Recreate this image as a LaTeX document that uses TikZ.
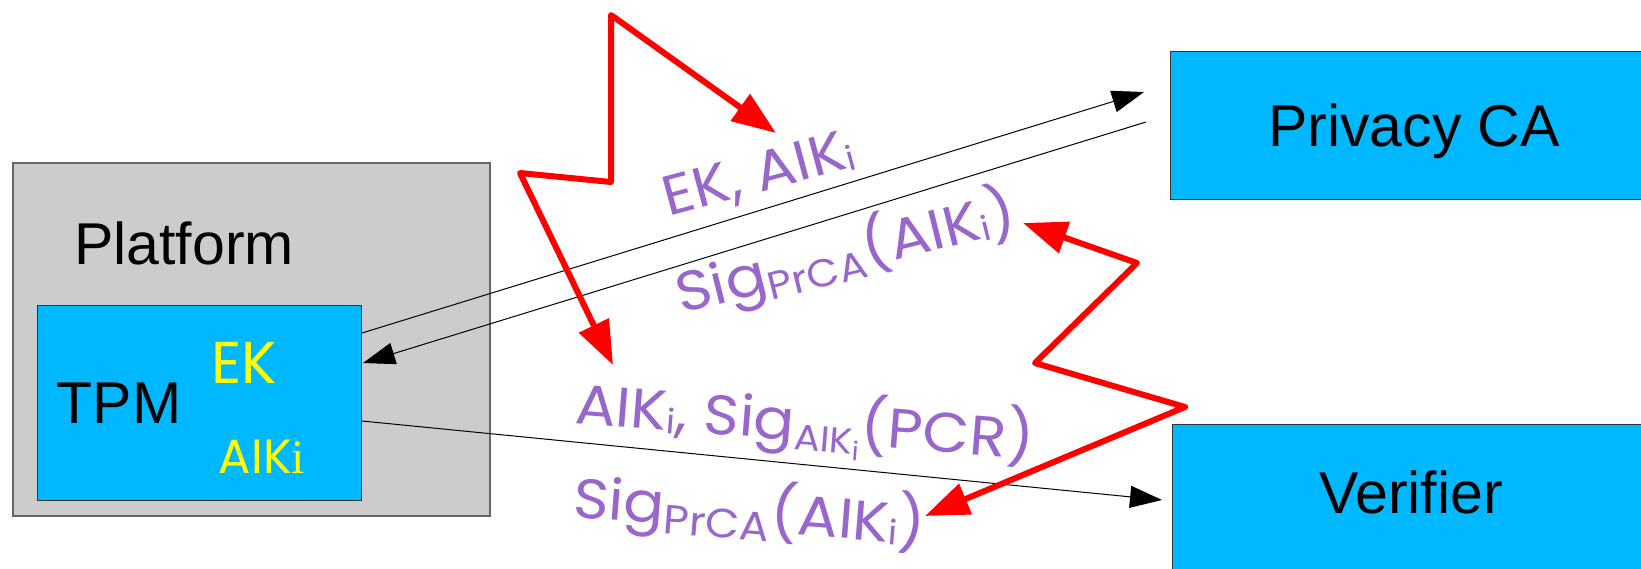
\documentclass[tikz,border=0pt]{standalone}
\usepackage{fontspec}
\setmainfont{Liberation Sans}
\newfontfamily\hand[FakeStretch=1.08]{Poppins}
\newfontfamily\keyfont{Poppins}
\newfontfamily\serifi{Liberation Serif}
\usetikzlibrary{arrows.meta}

\definecolor{boxblue}{HTML}{00B8FF}
\definecolor{platgray}{HTML}{CCCCCC}
\definecolor{platedge}{HTML}{666666}
\definecolor{msgpurple}{HTML}{9966CC}
\definecolor{keyyellow}{HTML}{FFFF00}
\definecolor{boltred}{HTML}{FF0000}

% lowered, smaller text for subscripts in the message labels
\newcommand\msgsub[2][39]{\raisebox{-9pt}{\fontsize{#1}{#1}\selectfont #2}}
\newcommand\idx{\raisebox{-3pt}{\fontsize{34}{34}\selectfont i}}
\newcommand\subidx{\raisebox{-7pt}{\fontsize{26}{26}\selectfont i}}

\tikzset{
  platbox/.style={draw=platedge, line width=1.5pt, fill=platgray, inner sep=0pt, outer sep=0pt, anchor=north west},
  bluebox/.style={draw=black!80, line width=1pt, fill=boxblue, inner sep=0pt, outer sep=0pt, anchor=north west},
  bigtext/.style={inner sep=0pt, anchor=base, font=\fontsize{59}{70}\selectfont},
  keytext/.style={inner sep=0pt, anchor=base, text=keyyellow},
  msglabel/.style={inner sep=0pt, anchor=base west, text=msgpurple, font=\hand\fontsize{56}{60}\selectfont},
  msg/.style={draw=black, line width=1pt, -{Triangle[length=32pt,width=22pt]}},
  bolt/.style={draw=boltred, line width=6pt, line join=round, line cap=round,
    {Triangle[length=44pt,width=32pt]}-{Triangle[length=44pt,width=32pt]}}
}

\begin{document}
\begin{tikzpicture}[x=1pt,y=-1pt]
  \path[use as bounding box] (0,0) rectangle (1641,569);
  \clip (0,0) rectangle (1641,569);

  % boxes
  \node[platbox, minimum width=477pt, minimum height=353pt] (platform) at (13,163) {};
  \node[bluebox, minimum width=324pt, minimum height=194pt] (tpm) at (37,306) {};
  \node[bluebox, minimum width=500pt, minimum height=148pt] (privca) at (1170,52) {};
  \node[bluebox, minimum width=500pt, minimum height=180pt] (verifier) at (1172,424) {};

  % box captions
  \node[bigtext] (platformlabel) at (184,265) {Platform};
  \node[bigtext] (tpmlabel) at (119,423) {TPM};
  \node[bigtext] (privcalabel) at (1414,147) {Privacy CA};
  \node[bigtext] (verifierlabel) at (1411,513) {Verifier};

  % keys held in the TPM
  \node[keytext, font=\keyfont\fontsize{59}{60}\selectfont] (ek) at (244,383) {EK};
  \node[keytext, font=\keyfont\fontsize{48}{50}\selectfont] (aik) at (262,473) {AIK{\serifi i}};

  % message endpoints
  \coordinate (ekout) at (362,333);
  \coordinate (caIn) at (1144,92);
  \coordinate (caOut) at (1146,122);
  \coordinate (tpmIn) at (363,363);
  \coordinate (tpmOut) at (362,421);
  \coordinate (verIn) at (1162,500);

  \draw[msg] (ekout) -- (caIn);
  \draw[msg] (caOut) -- (tpmIn);
  \draw[msg] (tpmOut) -- (verIn);

  % message labels
  \node[msglabel, rotate=15] (reqlabel) at (668,217) {EK, AIK\idx};
  \node[msglabel, rotate=14] (certlabel) at (681,314) {Sig\msgsub{PrCA}(AIK\idx)};
  \node[msglabel, rotate=-4.5] (quotelabel) at (574,423) {AIK\idx, Sig\msgsub[36]{AIK\subidx}(PCR)};
  \node[msglabel, rotate=-4.5] (fwdlabel) at (572,517) {Sig\msgsub[41]{PrCA}(AIK\idx)};

  % lightning bolt between TPM request and Privacy CA reply
  \coordinate (b1a) at (776,133);
  \coordinate (b1b) at (611,15);
  \coordinate (b1c) at (611,182);
  \coordinate (b1d) at (520,173);
  \coordinate (b1e) at (613,365);
  \draw[bolt] (b1a) -- (b1b) -- (b1c) -- (b1d) -- (b1e);

  % lightning bolt between certificate and verifier message
  \coordinate (b2a) at (1023,223);
  \coordinate (b2b) at (1137,263);
  \coordinate (b2c) at (1035,363);
  \coordinate (b2d) at (1185,407);
  \coordinate (b2e) at (925,516);
  \draw[bolt] (b2a) -- (b2b) -- (b2c) -- (b2d) -- (b2e);
\end{tikzpicture}
\end{document}
